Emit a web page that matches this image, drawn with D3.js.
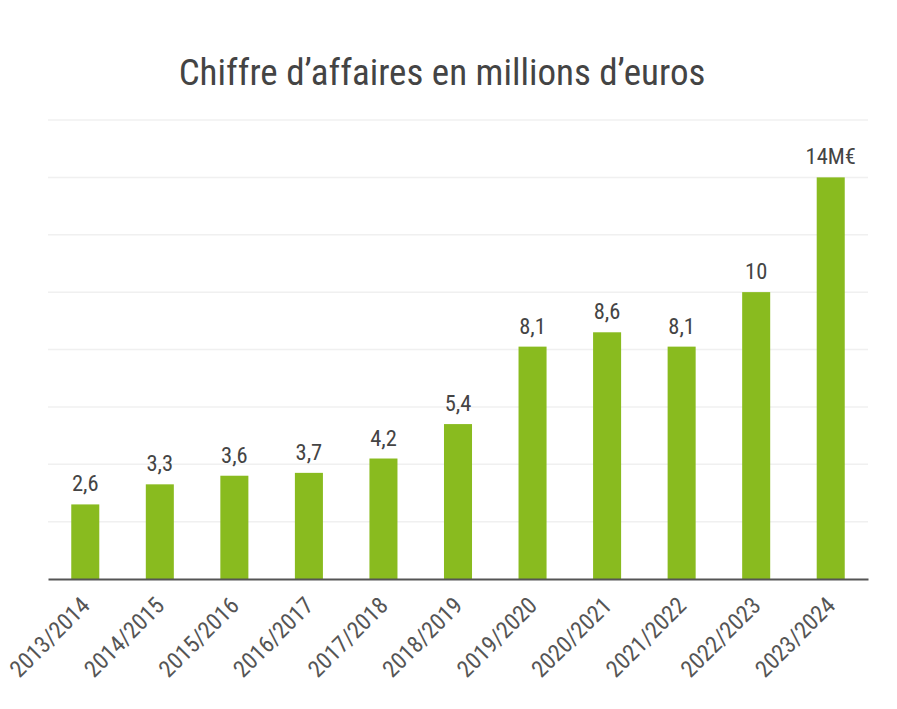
<!DOCTYPE html>
<html><head><meta charset="utf-8">
<script src="https://cdn.jsdelivr.net/npm/d3@7"></script>
<style>body{margin:0;background:#fff}text{font-family:"Roboto Condensed",Roboto,sans-serif}</style>
</head><body>
<svg id="c" width="897" height="709"></svg>
<script>
const categories = ["2013/2014","2014/2015","2015/2016","2016/2017","2017/2018","2018/2019","2019/2020","2020/2021","2021/2022","2022/2023","2023/2024"];
const values = [2.6,3.3,3.6,3.7,4.2,5.4,8.1,8.6,8.1,10,14];
const valueLabels = ["2,6","3,3","3,6","3,7","4,2","5,4","8,1","8,6","8,1","10","14M€"];
const yTicks = [0,2,4,6,8,10,12,14,16];
const title = "Chiffre d’affaires en millions d’euros";

const svg = d3.select("#c");
const x = d3.scaleBand().domain(categories).range([48,868]).paddingInner(0.624).paddingOuter(0.312);
const y = d3.scaleLinear().domain([0,16]).range([579,120]);

svg.append("g").selectAll("line").data(yTicks.filter(d=>d>0)).join("line")
  .attr("x1",48).attr("x2",868).attr("y1",d=>y(d)).attr("y2",d=>y(d))
  .attr("stroke","#f0f0f0").attr("stroke-width",1.5);

svg.append("g").selectAll("rect").data(values).join("rect")
  .attr("x",(d,i)=>x(categories[i])).attr("width",x.bandwidth())
  .attr("y",d=>y(d)).attr("height",d=>y(0)-y(d)).attr("fill","#89bb1f");

svg.append("g").selectAll("text").data(values).join("text")
  .attr("x",(d,i)=>x(categories[i])+x.bandwidth()/2).attr("y",d=>y(d)-13)
  .attr("text-anchor","middle").attr("font-size",22.5).attr("fill","#444")
  .text((d,i)=>valueLabels[i]);

const xAxis = d3.axisBottom(x).tickSize(0).tickPadding(0);
const gx = svg.append("g").attr("transform",`translate(0,${y(0)})`).call(xAxis);
gx.select(".domain").attr("stroke","#555").attr("stroke-width",2.2);
gx.selectAll("text").attr("font-size",23.5).attr("fill","#555").attr("font-family",null)
  .attr("text-anchor","end").attr("dy",null).attr("y",0)
  .attr("transform",`translate(6,28) rotate(-45)`);

svg.append("text").attr("x",442).attr("y",85).attr("text-anchor","middle")
  .attr("font-size",37).attr("fill","#444").text(title);
</script>
</body></html>
